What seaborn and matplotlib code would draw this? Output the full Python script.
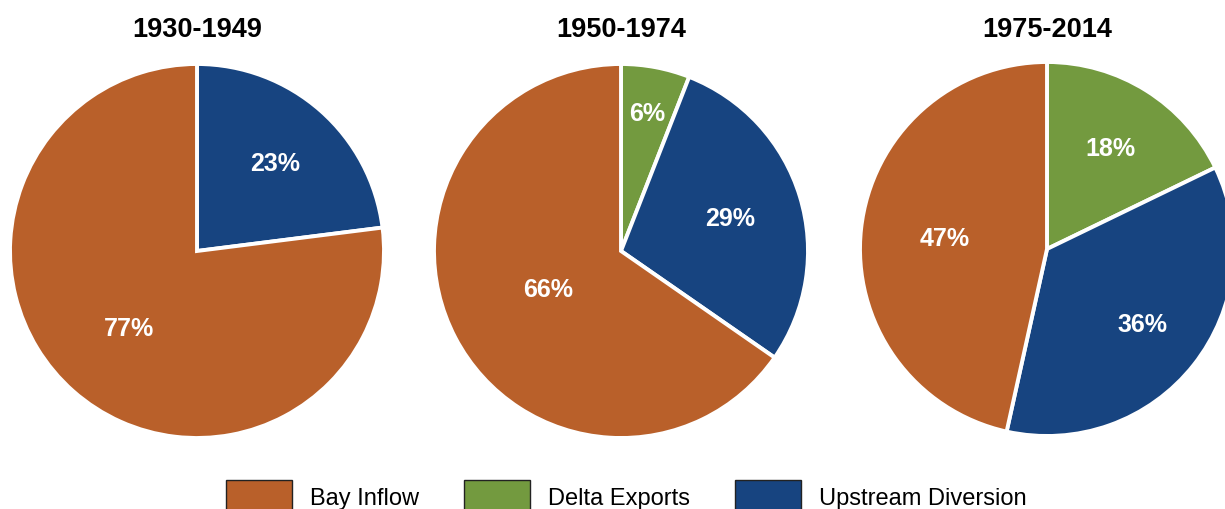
import numpy as np
import pandas as pd
import matplotlib
matplotlib.use("Agg")
import matplotlib.pyplot as plt
from matplotlib.patches import Patch
import seaborn as sns

# data
periods = ["1930-1949", "1950-1974", "1975-2014"]
categories = ["Delta Exports", "Upstream Diversion", "Bay Inflow"]
delta_exports = [0, 6, 18]
upstream_diversion = [23, 29, 36]
bay_inflow = [77, 66, 47]
legend_order = ["Bay Inflow", "Delta Exports", "Upstream Diversion"]

colors = {"Bay Inflow": "#B9602A", "Delta Exports": "#739A3F", "Upstream Diversion": "#174480"}

sns.set_theme(style="white")
plt.rcParams['font.family'] = ['Liberation Sans', 'DejaVu Sans']

df = pd.DataFrame({"period": periods,
                   "Delta Exports": delta_exports,
                   "Upstream Diversion": upstream_diversion,
                   "Bay Inflow": bay_inflow})

W, H = 1225, 510
fig = plt.figure(figsize=(W / 100, H / 100), dpi=100)

# pie centres / radius in pixels (from top-left)
centers = [(197, 252), (621, 252), (1047, 250)]
radius = 187
# label distance per wedge (fraction of radius), mimics the original placement
label_r = [[0.63, 0.55], [0.75, 0.61, 0.44], [0.64, 0.65, 0.55]]

for i, row in df.iterrows():
    cx, cy = centers[i]
    ax = fig.add_axes([(cx - radius) / W, (H - cy - radius) / H, 2 * radius / W, 2 * radius / H])
    cats = [c for c in categories if row[c] > 0]
    vals = [row[c] for c in cats]
    wedges, _ = ax.pie(vals, colors=[colors[c] for c in cats], startangle=90, counterclock=False,
                       radius=1.0, wedgeprops=dict(edgecolor="white", linewidth=2.8))
    ax.set_xlim(-1, 1)
    ax.set_ylim(-1, 1)
    ax.set_aspect("equal")
    ax.axis("off")
    for j, (w, v) in enumerate(zip(wedges, vals)):
        mid = np.deg2rad((w.theta1 + w.theta2) / 2)
        r = label_r[i][j]
        ax.text(r * np.cos(mid), r * np.sin(mid), f"{v}%", ha="center", va="center",
                color="white", fontsize=18, fontweight="bold")
    fig.text(cx / W, 1 - 37 / H, row["period"], ha="center", va="baseline",
             fontsize=19.5, fontweight="bold", color="black")

handles = [Patch(facecolor=colors[c], edgecolor="#222222", linewidth=1.0, label=c) for c in legend_order]
fig.legend(handles=handles, loc="center", bbox_to_anchor=(626 / W, 13 / H), ncol=3,
           frameon=False, fontsize=17, labelcolor="black", handlelength=2.8, handleheight=1.65,
           handletextpad=0.76, columnspacing=1.9, borderpad=0)

fig.savefig("out.png", dpi=100)
